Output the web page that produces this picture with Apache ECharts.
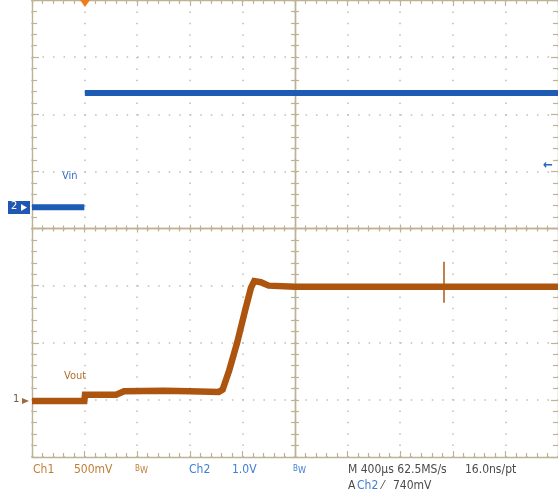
<!DOCTYPE html>
<html>
<head>
<meta charset="utf-8">
<script src="https://cdn.jsdelivr.net/npm/echarts@6/dist/echarts.min.js"></script>
<style>
html,body{margin:0;padding:0;background:#fff;}
#c{width:558px;height:494px;}
</style>
</head>
<body>
<div id="c"></div>
<script>
// ---- data (time in µs, voltage in V) ----
const vinTime  = [0, 398, 400, 402, 4000];
const vinVolts = [0.0, 0.0, null, 2.0, 2.0];

const voutTime  = [0, 398, 403, 640, 700, 1000, 1200, 1420, 1450, 1500, 1560, 1620, 1665, 1690, 1740, 1800, 2000, 2500, 3000, 3500, 4000];
const voutVolts = [-0.01, -0.01, 0.045, 0.045, 0.075, 0.08, 0.075, 0.07, 0.09, 0.26, 0.5, 0.78, 0.98, 1.04, 1.03, 1.0, 0.99, 0.99, 0.99, 0.99, 0.99];

const spikeTime  = [3133, 3133];
const spikeVolts = [1.21, 0.85];

const timeDivUs = 400;     // M 400µs
const ch1Scale = 0.5;      // 500mV/div, ground at 1 div from bottom
const ch2Min = -4.37, ch2Max = 3.63; // 1.0V/div

const zip = (t, v) => t.map((x, i) => [x, v[i]]);

const GRAT = '#bfb294';
const DOT = '#bdbdbd';
const FONT = '"Liberation Sans Narrow","DejaVu Sans Condensed","Liberation Sans",sans-serif';
const rect = {left: 32, top: 0, right: 0, bottom: 37, outerBoundsMode: 'none'};

function borderX(grid, pos, onZero, len, mlen) {
  return {
    type: 'value', gridIndex: grid, position: pos, min: -5, max: 5, interval: 1,
    axisLine: {show: true, onZero: onZero, lineStyle: {color: GRAT, width: 1.4}},
    axisTick: {show: true, inside: true, length: len, lineStyle: {color: GRAT, width: 1.2}},
    minorTick: {show: true, splitNumber: 5, length: mlen, lineStyle: {color: GRAT, width: 1.2}},
    axisLabel: {show: false}, splitLine: {show: false}
  };
}
function borderY(grid, pos, onZero, len, mlen) {
  return {
    type: 'value', gridIndex: grid, position: pos, min: -4, max: 4, interval: 1,
    axisLine: {show: true, onZero: onZero, lineStyle: {color: GRAT, width: 1.4}},
    axisTick: {show: true, inside: true, length: len, lineStyle: {color: GRAT, width: 1.2}},
    minorTick: {show: true, splitNumber: 5, length: mlen, lineStyle: {color: GRAT, width: 1.2}},
    axisLabel: {show: false}, splitLine: {show: false}
  };
}

const chart = echarts.init(document.getElementById('c'), null, {renderer: 'canvas'});
chart.setOption({
  animation: false,
  backgroundColor: '#ffffff',
  grid: [Object.assign({}, rect), Object.assign({}, rect), Object.assign({}, rect)],
  xAxis: [
    {type: 'value', gridIndex: 0, min: 0, max: timeDivUs * 10, interval: timeDivUs,
     axisLine: {show: false}, axisTick: {show: false}, axisLabel: {show: false},
     splitLine: {show: true, lineStyle: {color: DOT, width: 1.5, type: [1.5, 9.9]}}},
    borderX(1, 'bottom', false, 6, 4),
    borderX(1, 'top', false, 6, 4),
    borderX(2, 'bottom', true, 4, 3),
    borderX(2, 'top', true, 4, 3)
  ],
  yAxis: [
    {type: 'value', gridIndex: 0, min: -1 * ch1Scale, max: 7 * ch1Scale, interval: ch1Scale,
     axisLine: {show: false}, axisTick: {show: false}, axisLabel: {show: false},
     splitLine: {show: true, lineStyle: {color: DOT, width: 1.5, type: [1.5, 9.02]}}},
    {type: 'value', gridIndex: 0, min: ch2Min, max: ch2Max, show: false},
    borderY(1, 'left', false, 7, 5),
    borderY(1, 'right', false, 7, 5),
    borderY(2, 'left', true, 4, 4),
    borderY(2, 'right', true, 4, 4)
  ],
  series: [
    {name: 'Vin', type: 'line', xAxisIndex: 0, yAxisIndex: 1, data: zip(vinTime, vinVolts),
     showSymbol: false, connectNulls: false, lineStyle: {color: '#1d5bb4', width: 6}, z: 5},
    {name: 'Vout', type: 'line', xAxisIndex: 0, yAxisIndex: 0, data: zip(voutTime, voutVolts),
     showSymbol: false, lineStyle: {color: '#ad550f', width: 6.5, join: 'miter'}, z: 5},
    {name: 'Vout spike', type: 'line', xAxisIndex: 0, yAxisIndex: 0, data: zip(spikeTime, spikeVolts),
     showSymbol: false, lineStyle: {color: '#b0560f', width: 1.5}, z: 5}
  ],
  graphic: [
    // trigger position marker
    {type: 'polygon', shape: {points: [[80, 0], [90, 0], [85, 7]]}, style: {fill: '#f07b1c'}, z: 10},
    // trigger level arrow (right)
    {type: 'text', left: 543, top: 159, style: {text: '←', fill: '#2a63b8', font: 'bold 13px ' + FONT}, z: 10},
    // Ch2 ground marker
    {type: 'rect', shape: {x: 8, y: 201, width: 22, height: 13}, style: {fill: '#1f57b2'}, z: 10},
    {type: 'text', left: 11, top: 201, style: {text: '2', fill: '#ffffff', font: '11px ' + FONT}, z: 11},
    {type: 'polygon', shape: {points: [[21, 204], [27, 207.5], [21, 211]]}, style: {fill: '#ffffff'}, z: 11},
    // Ch1 ground marker
    {type: 'text', left: 13, top: 394, style: {text: '1', fill: '#7a5a3a', font: '11px ' + FONT}, z: 10},
    {type: 'polygon', shape: {points: [[22, 398], [29, 401], [22, 404]]}, style: {fill: '#9a6a40'}, z: 10},
    // channel labels
    {type: 'text', left: 62, top: 171, style: {text: 'Vin', fill: '#3a6cc0', font: '11px ' + FONT}, z: 10},
    {type: 'text', left: 64, top: 371, style: {text: 'Vout', fill: '#b0702e', font: '11px ' + FONT}, z: 10},
    // bottom readout
    {type: 'text', left: 33, top: 464, style: {text: 'Ch1', fill: '#c07d36', font: '12px ' + FONT}},
    {type: 'text', left: 74, top: 464, style: {text: '500mV', fill: '#c07d36', font: '12px ' + FONT}},
    {type: 'text', left: 135, top: 465, style: {text: '{b|B}{w|W}', rich: {b: {fill: '#c07d36', font: '8px ' + FONT}, w: {fill: '#c07d36', font: '9px ' + FONT, padding: [4, 0, 0, 0]}}}},
    {type: 'text', left: 189, top: 464, style: {text: 'Ch2', fill: '#3f7fd0', font: '12px ' + FONT}},
    {type: 'text', left: 232, top: 464, style: {text: '1.0V', fill: '#3f7fd0', font: '12px ' + FONT}},
    {type: 'text', left: 293, top: 465, style: {text: '{b|B}{w|W}', rich: {b: {fill: '#3f7fd0', font: '8px ' + FONT}, w: {fill: '#3f7fd0', font: '9px ' + FONT, padding: [4, 0, 0, 0]}}}},
    {type: 'text', left: 348, top: 464, style: {text: 'M 400µs 62.5MS/s', fill: '#4a4a4a', font: '12px ' + FONT}},
    {type: 'text', left: 465, top: 464, style: {text: '16.0ns/pt', fill: '#4a4a4a', font: '12px ' + FONT}},
    {type: 'text', left: 348, top: 480, style: {text: 'A', fill: '#4a4a4a', font: '12px ' + FONT}},
    {type: 'text', left: 357, top: 480, style: {text: 'Ch2', fill: '#3f7fd0', font: '12px ' + FONT}},
    {type: 'text', left: 382, top: 480, style: {text: '⁄', fill: '#4a4a4a', font: '12px ' + FONT}},
    {type: 'text', left: 393, top: 480, style: {text: '740mV', fill: '#4a4a4a', font: '12px ' + FONT}}
  ]
});
</script>
</body>
</html>
